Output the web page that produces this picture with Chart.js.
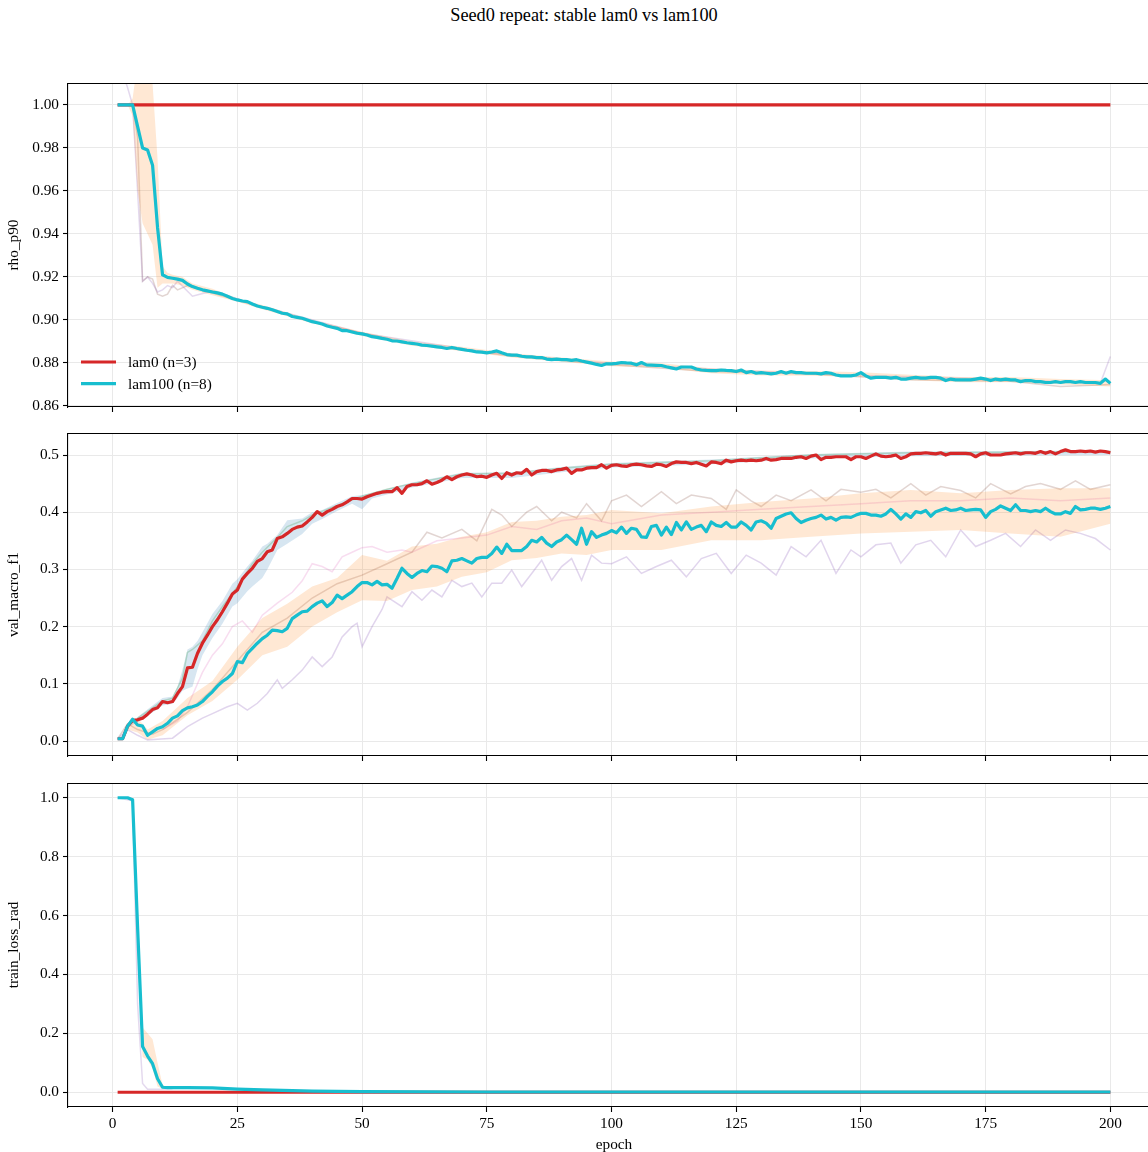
<!DOCTYPE html>
<html>
<head>
<meta charset="utf-8">
<script src="https://cdn.jsdelivr.net/npm/chart.js@4.4.1/dist/chart.umd.min.js"></script>
<style>
  html, body { margin: 0; padding: 0; background: #fff; }
  body { width: 1148px; height: 1152px; overflow: hidden; position: relative;
         font-family: 'Liberation Serif', 'Times New Roman', serif; }
  #title { position: absolute; left: 0; width: 1168px; top: 5px; text-align: center;
           font-size: 18.3px; color: #000; }
  canvas { position: absolute; left: 0; }
</style>
</head>
<body>
<div id="title">Seed0 repeat: stable lam0 vs lam100</div>
<canvas id="rhoCanvas" width="1160" height="338" style="top:83px"></canvas>
<canvas id="f1Canvas" width="1160" height="337" style="top:433px"></canvas>
<canvas id="lossCanvas" width="1160" height="372" style="top:783px"></canvas>
<script>
// ---- data ----
const epochs = Array.from({ length: 200 }, (_, i) => i + 1);
const xTicks = [0, 25, 50, 75, 100, 125, 150, 175, 200];
const rhoTicks = [0.86, 0.88, 0.90, 0.92, 0.94, 0.96, 0.98, 1.00];
const f1Ticks = [0.0, 0.1, 0.2, 0.3, 0.4, 0.5];
const lossTicks = [0.0, 0.2, 0.4, 0.6, 0.8, 1.0];

// rho_p90
const lam0RhoEpochs = [1, 200];
const lam0Rho = [1.0, 1.0];
const lam100Rho = [
  1.0, 1.0, 1.0, 1.0, 0.990, 0.980, 0.979, 0.972, 0.943, 0.921,
  0.9198, 0.9194, 0.9190, 0.9184, 0.9167, 0.9155, 0.9147, 0.9140, 0.9135, 0.9130,
  0.9126, 0.9120, 0.9110, 0.9100, 0.9093, 0.9088, 0.9085, 0.9074, 0.9065, 0.9059,
  0.9054, 0.9047, 0.9039, 0.9031, 0.9028, 0.9016, 0.9012, 0.9008, 0.9000, 0.8992,
  0.8987, 0.8981, 0.8972, 0.8966, 0.8961, 0.8950, 0.8950, 0.8944, 0.8938, 0.8935,
  0.8930, 0.8922, 0.8919, 0.8914, 0.8910, 0.8903, 0.8902, 0.8898, 0.8894, 0.8891,
  0.8888, 0.8883, 0.8881, 0.8878, 0.8875, 0.8872, 0.8867, 0.8872, 0.8867, 0.8863,
  0.8859, 0.8856, 0.8851, 0.8850, 0.8847, 0.8851, 0.8856, 0.8847, 0.8839, 0.8836,
  0.8836, 0.8831, 0.8828, 0.8828, 0.8825, 0.8825, 0.8818, 0.8815, 0.8818, 0.8815,
  0.8815, 0.8812, 0.8815, 0.8809, 0.8804, 0.8799, 0.8793, 0.8788, 0.8796, 0.8796,
  0.8798, 0.8802, 0.8800, 0.8799, 0.8791, 0.8802, 0.8791, 0.8790, 0.8789, 0.8788,
  0.8782, 0.8777, 0.8772, 0.8781, 0.8781, 0.8781, 0.8772, 0.8767, 0.8765, 0.8764,
  0.8764, 0.8767, 0.8765, 0.8764, 0.8760, 0.8767, 0.8755, 0.8760, 0.8752, 0.8755,
  0.8752, 0.8749, 0.8752, 0.8760, 0.8752, 0.8760, 0.8755, 0.8755, 0.8752, 0.8752,
  0.8752, 0.8749, 0.8755, 0.8752, 0.8744, 0.8740, 0.8740, 0.8740, 0.8744, 0.8755,
  0.8740, 0.8729, 0.8733, 0.8733, 0.8733, 0.8729, 0.8733, 0.8725, 0.8725, 0.8729,
  0.8733, 0.8729, 0.8729, 0.8733, 0.8733, 0.8729, 0.8718, 0.8725, 0.8721, 0.8721,
  0.8721, 0.8721, 0.8725, 0.8729, 0.8725, 0.8718, 0.8725, 0.8721, 0.8725, 0.8721,
  0.8721, 0.8713, 0.8718, 0.8718, 0.8713, 0.8713, 0.8709, 0.8709, 0.8713, 0.8709,
  0.8713, 0.8713, 0.8709, 0.8713, 0.8709, 0.8709, 0.8709, 0.8705, 0.8725, 0.8705
];
const lam100RhoBandEpochs = [3, 4, 5, 6, 7, 8, 9, 10, 11, 12, 14, 16, 20, 25, 30, 40, 50, 60, 70, 80, 90, 100, 110, 120, 130, 140, 150, 160, 170, 180, 190, 200];
const lam100RhoLo = [1.0, 0.995, 0.960, 0.945, 0.940, 0.935, 0.915, 0.917, 0.917, 0.917, 0.916, 0.914, 0.9115, 0.9085, 0.9050, 0.8985, 0.8925, 0.8880, 0.8855, 0.8825, 0.8805, 0.8785, 0.8778, 0.8752, 0.8742, 0.8740, 0.8735, 0.8720, 0.8710, 0.8710, 0.8700, 0.8690];
const lam100RhoHi = [1.0, 1.003, 1.020, 1.020, 1.020, 1.010, 0.975, 0.925, 0.922, 0.921, 0.920, 0.917, 0.9145, 0.9100, 0.9070, 0.9000, 0.8945, 0.8900, 0.8875, 0.8845, 0.8825, 0.8807, 0.8798, 0.8775, 0.8765, 0.8762, 0.8757, 0.8745, 0.8735, 0.8735, 0.8725, 0.8720];
const runPurpleRhoEpochs = [1, 2, 3, 4, 5, 6, 7, 8, 9, 10, 11, 12, 13, 16, 20, 30, 50, 75, 100, 125, 150, 175, 190, 198, 200];
const runPurpleRho = [1.025, 1.015, 1.008, 1.0, 0.960, 0.918, 0.920, 0.917, 0.913, 0.914, 0.916, 0.915, 0.918, 0.911, 0.9135, 0.9062, 0.8938, 0.8850, 0.8797, 0.8765, 0.8742, 0.8726, 0.8712, 0.8706, 0.8830];
const runBrownRhoEpochs = [1, 4, 5, 6, 7, 8, 9, 10, 11, 12, 13, 15, 20, 40, 60, 80, 100, 120, 140, 160, 180, 190, 200];
const runBrownRho = [1.0, 1.0, 0.985, 0.918, 0.920, 0.919, 0.912, 0.911, 0.912, 0.916, 0.914, 0.916, 0.9125, 0.8990, 0.8888, 0.8832, 0.8792, 0.8760, 0.8748, 0.8722, 0.8715, 0.8690, 0.8700];

// val_macro_f1
const lam0F1 = [
  0.004, 0.004, 0.026, 0.036, 0.037, 0.040, 0.047, 0.055, 0.058, 0.069,
  0.067, 0.069, 0.083, 0.095, 0.128, 0.129, 0.153, 0.171, 0.185, 0.200,
  0.212, 0.226, 0.241, 0.257, 0.264, 0.283, 0.293, 0.302, 0.314, 0.319,
  0.331, 0.334, 0.354, 0.357, 0.363, 0.370, 0.374, 0.376, 0.383, 0.391,
  0.401, 0.395, 0.401, 0.405, 0.410, 0.413, 0.418, 0.424, 0.424, 0.423,
  0.427, 0.430, 0.433, 0.435, 0.436, 0.436, 0.443, 0.433, 0.445, 0.448,
  0.448, 0.450, 0.455, 0.449, 0.452, 0.456, 0.462, 0.457, 0.462, 0.465,
  0.467, 0.465, 0.462, 0.463, 0.461, 0.465, 0.468, 0.459, 0.469, 0.465,
  0.469, 0.468, 0.475, 0.465, 0.471, 0.473, 0.473, 0.471, 0.474, 0.475,
  0.477, 0.468, 0.474, 0.474, 0.477, 0.478, 0.478, 0.483, 0.477, 0.482,
  0.483, 0.481, 0.480, 0.483, 0.484, 0.483, 0.481, 0.480, 0.484, 0.483,
  0.480, 0.485, 0.488, 0.487, 0.487, 0.485, 0.487, 0.484, 0.481, 0.488,
  0.487, 0.485, 0.491, 0.488, 0.490, 0.491, 0.490, 0.491, 0.490, 0.491,
  0.494, 0.491, 0.492, 0.494, 0.494, 0.494, 0.496, 0.497, 0.494, 0.498,
  0.500, 0.492, 0.496, 0.496, 0.497, 0.497, 0.497, 0.492, 0.497, 0.497,
  0.494, 0.498, 0.502, 0.498, 0.497, 0.498, 0.500, 0.494, 0.497, 0.502,
  0.503, 0.503, 0.504, 0.503, 0.502, 0.504, 0.500, 0.503, 0.503, 0.503,
  0.503, 0.502, 0.497, 0.502, 0.504, 0.500, 0.500, 0.500, 0.502, 0.503,
  0.504, 0.502, 0.504, 0.504, 0.503, 0.506, 0.503, 0.506, 0.502, 0.506,
  0.509, 0.506, 0.506, 0.507, 0.506, 0.507, 0.505, 0.507, 0.506, 0.504
];
const lam100F1 = [
  0.004, 0.004, 0.026, 0.038, 0.028, 0.026, 0.010, 0.016, 0.022, 0.025,
  0.031, 0.040, 0.044, 0.053, 0.058, 0.060, 0.063, 0.069, 0.078, 0.086,
  0.096, 0.104, 0.110, 0.118, 0.139, 0.137, 0.153, 0.162, 0.171, 0.179,
  0.185, 0.194, 0.193, 0.191, 0.197, 0.214, 0.220, 0.226, 0.227, 0.235,
  0.241, 0.245, 0.235, 0.242, 0.255, 0.249, 0.255, 0.261, 0.270, 0.277,
  0.277, 0.273, 0.279, 0.273, 0.274, 0.267, 0.284, 0.302, 0.293, 0.286,
  0.293, 0.298, 0.296, 0.306, 0.305, 0.302, 0.296, 0.315, 0.316, 0.319,
  0.315, 0.311, 0.319, 0.321, 0.321, 0.328, 0.339, 0.328, 0.344, 0.333,
  0.333, 0.333, 0.340, 0.351, 0.348, 0.356, 0.346, 0.340, 0.348, 0.352,
  0.360, 0.352, 0.344, 0.372, 0.344, 0.366, 0.356, 0.360, 0.363, 0.368,
  0.364, 0.374, 0.363, 0.372, 0.370, 0.357, 0.356, 0.375, 0.377, 0.360,
  0.374, 0.361, 0.382, 0.369, 0.383, 0.370, 0.374, 0.377, 0.366, 0.383,
  0.377, 0.375, 0.382, 0.374, 0.374, 0.383, 0.377, 0.369, 0.383, 0.385,
  0.381, 0.372, 0.389, 0.393, 0.397, 0.399, 0.389, 0.382, 0.386, 0.389,
  0.391, 0.395, 0.388, 0.391, 0.386, 0.391, 0.392, 0.391, 0.395, 0.398,
  0.398, 0.395, 0.395, 0.393, 0.397, 0.405, 0.397, 0.388, 0.397, 0.391,
  0.401, 0.399, 0.403, 0.393, 0.401, 0.404, 0.407, 0.403, 0.404, 0.407,
  0.403, 0.404, 0.405, 0.404, 0.391, 0.401, 0.405, 0.411, 0.407, 0.403,
  0.413, 0.403, 0.403, 0.401, 0.403, 0.401, 0.407, 0.401, 0.397, 0.397,
  0.401, 0.398, 0.410, 0.404, 0.405, 0.407, 0.407, 0.405, 0.407, 0.410
];
const lam0F1BandEpochs = [3, 5, 8, 10, 12, 13, 14, 15, 16, 17, 18, 20, 22, 24, 25, 27, 28, 30, 31, 33, 35, 38, 40, 42, 45, 48, 50, 52, 55, 60, 70, 80, 90, 100, 120, 140, 160, 180, 200];
const lam0F1Lo = [0.024, 0.033, 0.050, 0.062, 0.065, 0.075, 0.088, 0.092, 0.095, 0.125, 0.150, 0.180, 0.205, 0.235, 0.241, 0.262, 0.270, 0.285, 0.300, 0.334, 0.345, 0.362, 0.380, 0.388, 0.402, 0.415, 0.405, 0.424, 0.431, 0.443, 0.460, 0.460, 0.470, 0.478, 0.484, 0.494, 0.498, 0.499, 0.500];
const lam0F1Hi = [0.028, 0.042, 0.062, 0.075, 0.078, 0.095, 0.125, 0.160, 0.165, 0.175, 0.190, 0.222, 0.245, 0.275, 0.283, 0.305, 0.315, 0.340, 0.345, 0.360, 0.386, 0.389, 0.400, 0.404, 0.416, 0.428, 0.430, 0.434, 0.441, 0.452, 0.469, 0.470, 0.479, 0.486, 0.492, 0.502, 0.506, 0.507, 0.508];
const lam100F1BandEpochs = [3, 5, 7, 10, 15, 20, 25, 30, 35, 40, 45, 50, 55, 60, 65, 70, 75, 80, 85, 90, 95, 100, 110, 120, 130, 140, 150, 160, 170, 180, 190, 200];
const lam100F1Lo = [0.020, 0.015, 0.002, 0.010, 0.045, 0.070, 0.107, 0.150, 0.165, 0.200, 0.225, 0.246, 0.245, 0.264, 0.270, 0.287, 0.295, 0.316, 0.320, 0.328, 0.325, 0.334, 0.334, 0.351, 0.351, 0.357, 0.363, 0.366, 0.369, 0.363, 0.357, 0.380];
const lam100F1Hi = [0.030, 0.040, 0.020, 0.035, 0.075, 0.105, 0.165, 0.215, 0.240, 0.270, 0.285, 0.325, 0.315, 0.340, 0.345, 0.357, 0.365, 0.383, 0.385, 0.392, 0.395, 0.404, 0.398, 0.410, 0.418, 0.424, 0.433, 0.439, 0.433, 0.439, 0.442, 0.442];
const runGreenF1Epochs = [5, 8, 10, 12, 14, 15, 16, 18, 20, 22, 25, 28, 30, 33, 35, 38, 40, 45, 50, 55, 60, 70, 80, 90, 100, 120, 140, 160, 180, 200];
const runGreenF1 = [0.040, 0.058, 0.070, 0.075, 0.110, 0.155, 0.160, 0.175, 0.210, 0.235, 0.270, 0.310, 0.330, 0.356, 0.375, 0.385, 0.395, 0.412, 0.428, 0.440, 0.450, 0.467, 0.468, 0.477, 0.484, 0.490, 0.500, 0.504, 0.505, 0.506];
const runPurpleF1Epochs = [1, 3, 5, 7, 9, 12, 15, 18, 20, 23, 25, 27, 29, 31, 33, 34, 36, 38, 40, 42, 44, 46, 48, 49, 50, 52, 54, 55, 58, 60, 62, 64, 66, 68, 70, 72, 74, 76, 78, 80, 82, 84, 86, 88, 90, 92, 94, 96, 98, 100, 103, 106, 109, 112, 115, 118, 121, 124, 127, 130, 133, 136, 139, 142, 145, 148, 150, 153, 156, 158, 161, 164, 167, 170, 173, 176, 179, 182, 185, 188, 191, 194, 197, 200];
const runPurpleF1 = [0.004, 0.020, 0.010, 0.002, 0.003, 0.005, 0.025, 0.040, 0.048, 0.060, 0.066, 0.054, 0.066, 0.083, 0.107, 0.092, 0.107, 0.124, 0.147, 0.130, 0.147, 0.182, 0.200, 0.206, 0.165, 0.200, 0.230, 0.252, 0.235, 0.261, 0.246, 0.264, 0.252, 0.281, 0.270, 0.276, 0.252, 0.276, 0.276, 0.299, 0.270, 0.293, 0.316, 0.281, 0.305, 0.319, 0.281, 0.325, 0.311, 0.310, 0.322, 0.293, 0.305, 0.316, 0.287, 0.319, 0.328, 0.293, 0.325, 0.311, 0.290, 0.340, 0.322, 0.351, 0.293, 0.334, 0.322, 0.343, 0.346, 0.311, 0.343, 0.351, 0.322, 0.369, 0.340, 0.351, 0.363, 0.340, 0.369, 0.351, 0.369, 0.363, 0.354, 0.334];
const runBrownF1Epochs = [1, 3, 5, 8, 10, 15, 20, 25, 30, 35, 40, 45, 50, 55, 60, 63, 66, 70, 73, 76, 78, 80, 83, 85, 88, 90, 93, 95, 98, 100, 103, 106, 110, 113, 116, 120, 123, 125, 128, 130, 133, 136, 140, 143, 146, 150, 153, 156, 160, 163, 166, 170, 173, 176, 180, 183, 186, 190, 193, 196, 200];
const runBrownF1 = [0.004, 0.030, 0.020, 0.012, 0.020, 0.050, 0.090, 0.140, 0.190, 0.215, 0.250, 0.275, 0.290, 0.310, 0.330, 0.365, 0.355, 0.370, 0.350, 0.405, 0.395, 0.375, 0.400, 0.410, 0.385, 0.400, 0.390, 0.415, 0.385, 0.420, 0.430, 0.410, 0.436, 0.415, 0.430, 0.424, 0.405, 0.439, 0.420, 0.410, 0.430, 0.420, 0.439, 0.420, 0.440, 0.435, 0.440, 0.425, 0.450, 0.430, 0.445, 0.438, 0.425, 0.450, 0.432, 0.445, 0.450, 0.440, 0.455, 0.440, 0.448];
const runPinkF1Epochs = [10, 13, 15, 18, 20, 22, 24, 26, 28, 30, 33, 36, 38, 40, 42, 44, 46, 48, 50, 52, 55, 58, 60, 65, 70, 75, 80, 85, 90, 95, 100, 110, 120, 130, 140, 150, 160, 170, 180, 190, 200];
const runPinkF1 = [0.020, 0.035, 0.060, 0.120, 0.150, 0.170, 0.200, 0.210, 0.190, 0.220, 0.241, 0.260, 0.280, 0.310, 0.305, 0.296, 0.322, 0.330, 0.338, 0.340, 0.330, 0.334, 0.330, 0.350, 0.355, 0.360, 0.375, 0.370, 0.385, 0.390, 0.380, 0.395, 0.400, 0.405, 0.410, 0.415, 0.420, 0.420, 0.425, 0.420, 0.425];

// train_loss_rad
const lam0LossEpochs = [1, 200];
const lam0Loss = [0.0, 0.0];
const lam100LossEpochs = [1, 2, 3, 4, 5, 6, 7, 8, 9, 10, 11, 15, 20, 25, 30, 40, 50, 75, 100, 150, 200];
const lam100Loss = [1.0, 1.0, 1.0, 0.993, 0.56, 0.155, 0.123, 0.097, 0.046, 0.017, 0.016, 0.016, 0.015, 0.011, 0.008, 0.004, 0.002, 0.001, 0.001, 0.001, 0.001];
const lam100LossBandEpochs = [4, 5, 6, 7, 8, 9, 10, 11];
const lam100LossLo = [0.990, 0.45, 0.12, 0.11, 0.08, 0.02, 0.012, 0.014];
const lam100LossHi = [1.0, 0.65, 0.22, 0.20, 0.18, 0.10, 0.025, 0.018];
const runPurpleLossEpochs = [1, 4, 5, 6, 7, 8, 10, 12];
const runPurpleLoss = [1.0, 0.99, 0.30, 0.03, 0.01, 0.01, 0.01, 0.012];

// ---- styling ----
const RED = '#d62728';
const CYAN = '#17becf';
const BLUE_BAND = 'rgba(31,119,180,0.18)';
const ORANGE_BAND = 'rgba(255,127,14,0.18)';
const GRID = '#e9e9e9';
const FONT = "'Liberation Serif', 'Times New Roman', serif";
const FS = 15.3;

Chart.defaults.font.family = FONT;
Chart.defaults.font.size = FS;
Chart.defaults.color = '#000';

const pts = (xs, ys) => xs.map((x, i) => ({ x: x, y: ys[i] }));

// lower "order" is painted on top in Chart.js
function meanLine(label, xs, ys, color, order) {
  return { label: label, data: pts(xs, ys), borderColor: color, borderWidth: 3.2,
           pointRadius: 0, fill: false, clip: 0, inLegend: true, order: order,
           borderJoinStyle: 'round' };
}
function runLine(xs, ys, color) {
  return { data: pts(xs, ys), borderColor: color, borderWidth: 1.5,
           pointRadius: 0, fill: false, clip: 0, order: 20 };
}
function band(xs, lo, hi, color) {
  return [
    { data: pts(xs, hi), borderColor: 'rgba(0,0,0,0)', borderWidth: 0, pointRadius: 0,
      fill: '+1', backgroundColor: color, clip: 0, order: 10 },
    { data: pts(xs, lo), borderColor: 'rgba(0,0,0,0)', borderWidth: 0, pointRadius: 0,
      fill: false, clip: 0, order: 10 }
  ];
}

// top / right spines
const framePlugin = {
  id: 'frame',
  afterDatasetsDraw(chart) {
    const a = chart.chartArea, ctx = chart.ctx;
    ctx.save();
    ctx.strokeStyle = '#000';
    ctx.lineWidth = 1.1;
    ctx.beginPath();
    ctx.moveTo(a.left, a.top + 0.5);
    ctx.lineTo(a.right, a.top + 0.5);
    ctx.lineTo(a.right - 0.5, a.bottom);
    ctx.stroke();
    ctx.restore();
  }
};

// matplotlib-like legend in the lower left of the chart area
const legendPlugin = {
  id: 'miniLegend',
  afterDraw(chart) {
    const a = chart.chartArea, ctx = chart.ctx;
    const items = chart.data.datasets.filter(d => d.inLegend);
    ctx.save();
    ctx.font = FS + 'px ' + FONT;
    ctx.textBaseline = 'middle';
    ctx.fillStyle = '#000';
    items.forEach((d, i) => {
      const y = a.bottom - 45 + i * 21.7;
      ctx.strokeStyle = d.borderColor;
      ctx.lineWidth = 3.2;
      ctx.beginPath();
      ctx.moveTo(a.left + 13, y);
      ctx.lineTo(a.left + 48, y);
      ctx.stroke();
      ctx.fillText(d.label, a.left + 60, y + 1);
    });
    ctx.restore();
  }
};

function makePanel(canvasId, datasets, yMin, yMax, yTicks, digits, yTitle, showX, xHeight, withLegend) {
  const plugins = [framePlugin];
  if (withLegend) plugins.push(legendPlugin);
  return new Chart(document.getElementById(canvasId), {
    type: 'line',
    data: { datasets: datasets },
    options: {
      responsive: false,
      animation: false,
      events: [],
      layout: { padding: 0 },
      plugins: { legend: { display: false }, tooltip: { enabled: false } },
      elements: { line: { tension: 0 } },
      scales: {
        x: {
          type: 'linear', min: -8.95, max: 209.95,
          afterBuildTicks: s => { s.ticks = xTicks.map(v => ({ value: v })); },
          afterFit: s => { s.height = xHeight; s.paddingLeft = 0; s.paddingRight = 0; },
          grid: { color: GRID, lineWidth: 1, tickColor: '#000', tickLength: 5, tickWidth: 1.1 },
          border: { display: true, color: '#000', width: 1.1 },
          ticks: { display: showX, padding: 3, maxRotation: 0, autoSkip: false,
                   callback: v => String(v) },
          title: { display: showX, text: 'epoch', padding: { top: 0, bottom: 1 } }
        },
        y: {
          min: yMin, max: yMax,
          afterBuildTicks: s => { s.ticks = yTicks.map(v => ({ value: v })); },
          afterFit: s => { s.width = 68; s.paddingTop = 0; s.paddingBottom = 0; },
          grid: { color: GRID, lineWidth: 1, tickColor: '#000', tickLength: 5, tickWidth: 1.1 },
          border: { display: true, color: '#000', width: 1.1 },
          ticks: { padding: 4, autoSkip: false, callback: v => Number(v).toFixed(digits) },
          title: { display: true, text: yTitle, padding: { top: 5, bottom: 0 } }
        }
      }
    },
    plugins: plugins
  });
}

makePanel('rhoCanvas', [
  meanLine('lam0 (n=3)', lam0RhoEpochs, lam0Rho, RED, 2),
  meanLine('lam100 (n=8)', epochs, lam100Rho, CYAN, 1),
  runLine(runPurpleRhoEpochs, runPurpleRho, 'rgba(148,103,189,0.25)'),
  runLine(runBrownRhoEpochs, runBrownRho, 'rgba(140,86,75,0.25)'),
  ...band(lam100RhoBandEpochs, lam100RhoLo, lam100RhoHi, ORANGE_BAND)
], 0.8595, 1.0102, rhoTicks, 2, 'rho_p90', false, 14, true);

makePanel('f1Canvas', [
  meanLine('lam0 (n=3)', epochs, lam0F1, RED, 2),
  meanLine('lam100 (n=8)', epochs, lam100F1, CYAN, 1),
  runLine(runGreenF1Epochs, runGreenF1, 'rgba(44,160,44,0.25)'),
  runLine(runPurpleF1Epochs, runPurpleF1, 'rgba(148,103,189,0.28)'),
  runLine(runBrownF1Epochs, runBrownF1, 'rgba(140,86,75,0.25)'),
  runLine(runPinkF1Epochs, runPinkF1, 'rgba(227,119,194,0.25)'),
  ...band(lam0F1BandEpochs, lam0F1Lo, lam0F1Hi, BLUE_BAND),
  ...band(lam100F1BandEpochs, lam100F1Lo, lam100F1Hi, ORANGE_BAND)
], -0.0262, 0.5385, f1Ticks, 1, 'val_macro_f1', false, 14, false);

makePanel('lossCanvas', [
  meanLine('lam0 (n=3)', lam0LossEpochs, lam0Loss, RED, 2),
  meanLine('lam100 (n=8)', lam100LossEpochs, lam100Loss, CYAN, 1),
  runLine(runPurpleLossEpochs, runPurpleLoss, 'rgba(148,103,189,0.25)'),
  ...band(lam100LossBandEpochs, lam100LossLo, lam100LossHi, ORANGE_BAND)
], -0.05, 1.05, lossTicks, 1, 'train_loss_rad', true, 48, false);
</script>
</body>
</html>
